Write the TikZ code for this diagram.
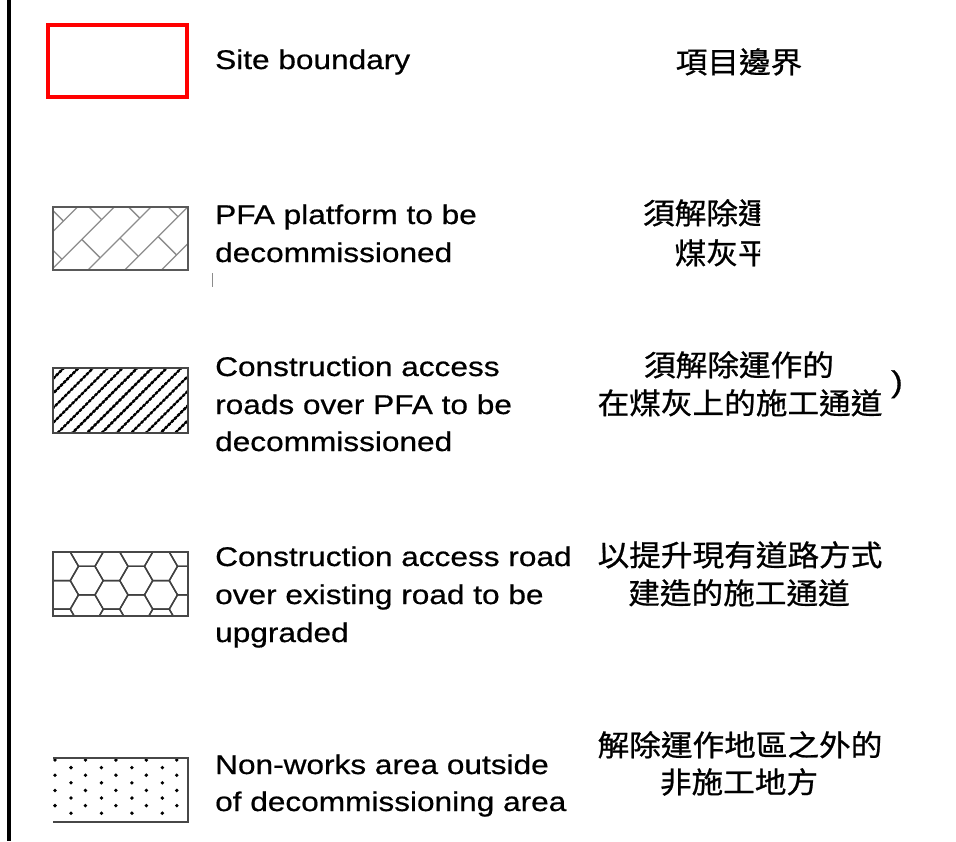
\documentclass[tikz,border=0pt]{standalone}
\usepackage{fontspec}
\newfontfamily\enf[FakeStretch=1.17,FakeBold=0.6]{Liberation Sans}
\newfontfamily\zhf[FakeStretch=1.08,FakeBold=0.8]{Noto Sans CJK TC}
\newcommand\enfont{\enf\fontsize{27}{27}\selectfont}
\newcommand\zhfont{\zhf\fontsize{29.3}{29.3}\selectfont}
\begin{document}
\begin{tikzpicture}[x=1pt,y=-1pt,
  en/.style={anchor=base west, inner sep=0pt, font=\enfont},
  zh/.style={anchor=base, inner sep=0pt, font=\zhfont},
  legbox/.style={draw=black!72, line width=2.2pt},
  pfaline/.style={draw=black!45, line width=1.3pt},
  hexline/.style={draw=black!75, line width=1.4pt},
]
\useasboundingbox[fill=white] (0,0) rectangle (956,841);
% left frame line
\draw[line width=4pt] (9,0) -- (9,841);

% ---- Site boundary
\draw[red, line width=4pt] (48,25) rectangle (187,97);
\node[en] (t1) at (215,69) {Site boundary};
\node[zh] (z1) at (739,73) {項目邊界};

% ---- PFA platform
\begin{scope}
  \clip (53,207) rectangle (188,270);
  \begin{scope}[shift={(120,238)}, rotate=45]
    \foreach \k [evaluate=\k as \off using {28*mod(\k+10,2)}] in {-5,...,4} {
      \draw[pfaline] (-130,\k*26) -- (130,\k*26);
      \foreach \j in {-3,...,3}
        \draw[pfaline] (\j*56+\off,\k*26) -- ++(0,26);
    }
  \end{scope}
\end{scope}
\draw[legbox, draw=black!65] (53,207) rectangle (188,270);
\node[en] (t2a) at (215,224) {PFA platform to be};
\node[en] (t2b) at (215,262) {decommissioned};
\draw[black!45, line width=1pt] (212,273) -- (212,287);
\begin{scope}
  \clip (560,180) rectangle (760,290);
  \node[zh] (z2a) at (738,224) {須解除運作的};
  \node[zh] (z2b) at (738,264) {煤灰平台};
\end{scope}

% ---- Construction access roads over PFA
\begin{scope}
  \clip (53,368) rectangle (188,433);
  \begin{scope}[shift={(120,400)}, rotate=45]
    \foreach \k in {-9,...,9} {
      \draw[line width=1.5pt] (-110,\k*10.4) -- (110,\k*10.4);
      \draw[line width=3.6pt, line cap=round, dash pattern=on 0pt off 4.4pt] (-110,\k*10.4) -- (110,\k*10.4);
    }
  \end{scope}
\end{scope}
\draw[legbox] (53,368) rectangle (188,433);
\node[en] (t3a) at (215,376) {Construction access};
\node[en] (t3b) at (215,414) {roads over PFA to be};
\node[en] (t3c) at (215,451) {decommissioned};
\node[zh] (z3a) at (739,376) {須解除運作的};
\node[zh] (z3b) at (740,414) {在煤灰上的施工通道};
\node[inner sep=0pt, anchor=base, font=\enfont\fontsize{30}{30}\selectfont] (paren) at (897,392) {)};

% ---- Construction access road over existing road
\begin{scope}
  \clip (53,552) rectangle (188,616);
  \foreach \i in {0,...,3} {
    \foreach \j in {-1,...,3} {
      \draw[hexline] ({62+\i*49.5},{552+14.29+\j*28.58})
        +(0:16.5) -- +(60:16.5) -- +(120:16.5) -- +(180:16.5) -- +(240:16.5) -- +(300:16.5) -- cycle;
      \draw[hexline] ({62+24.75+\i*49.5},{552+28.58+\j*28.58})
        +(0:16.5) -- +(60:16.5) -- +(120:16.5) -- +(180:16.5) -- +(240:16.5) -- +(300:16.5) -- cycle;
    }
  }
\end{scope}
\draw[legbox] (53,552) rectangle (188,616);
\node[en] (t4a) at (215,566) {Construction access road};
\node[en] (t4b) at (215,604) {over existing road to be};
\node[en] (t4c) at (215,642) {upgraded};
\node[zh] (z4a) at (740,566) {以提升現有道路方式};
\node[zh] (z4b) at (739,604) {建造的施工通道};

% ---- Non-works area
\foreach \m in {0,2,4,6} {
  \foreach \n in {0,...,4}
    \fill ({55+\n*30.45},{760+\m*7.6}) circle (1.9);
}
\foreach \m in {1,3,5,7} {
  \foreach \n in {0,...,3}
    \fill ({71+\n*30.45},{760+\m*7.6}) circle (1.9);
}
\draw[legbox] (53,758) -- (188,758) -- (188,822) -- (53,822);
\node[en] (t5a) at (215,774) {Non-works area outside};
\node[en] (t5b) at (215,811) {of decommissioning area};
\node[zh] (z5a) at (740,756) {解除運作地區之外的};
\node[zh] (z5b) at (739,793) {非施工地方};
\end{tikzpicture}
\end{document}
